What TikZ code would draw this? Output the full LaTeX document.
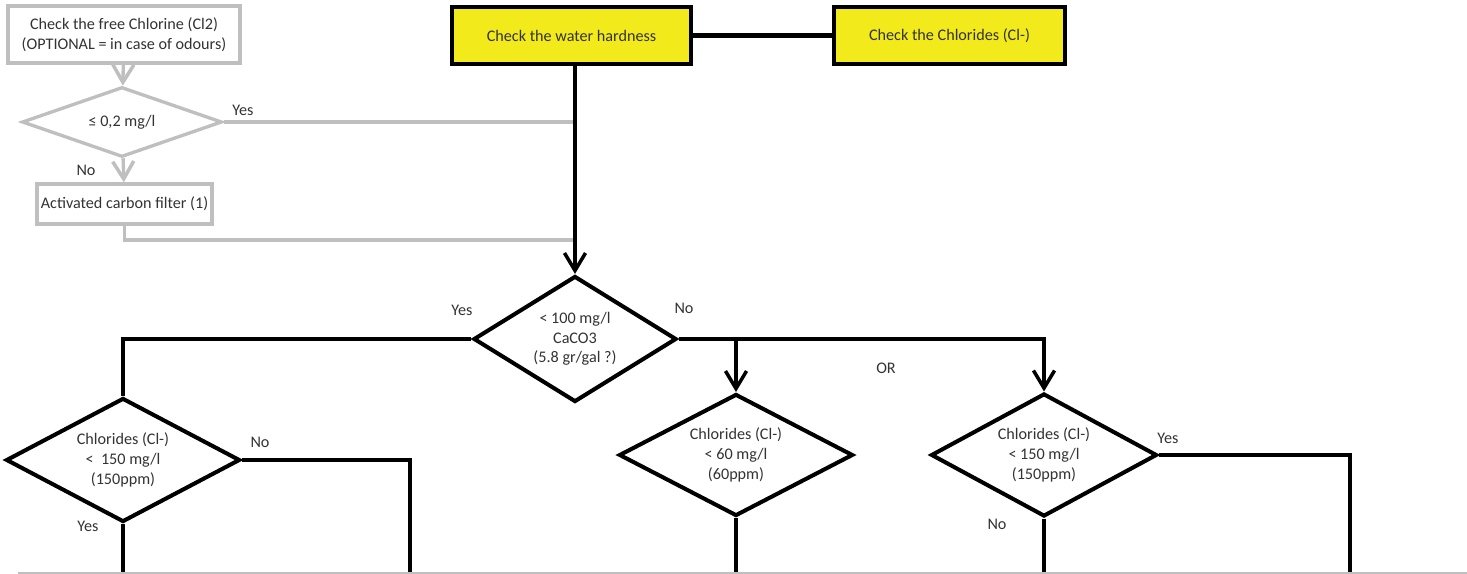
\documentclass[tikz,border=0pt]{standalone}
\usepackage{fontspec}
\setmainfont{Carlito}
\usetikzlibrary{shapes.geometric,arrows.meta}

\definecolor{boxyellow}{HTML}{F2EA1A}
\definecolor{optgray}{HTML}{BFBFBF}
\definecolor{txtgray}{HTML}{333333}

\tikzset{
  every node/.style={font=\fontsize{9.2}{11.2}\selectfont, text=txtgray},
  flow/.style={line width=2.3pt, black},
  optflow/.style={line width=1.9pt, optgray},
  tip/.style={-{Straight Barb[length=10pt,width=12pt,line width=2pt]}},
  stepbox/.style={draw=black, line width=2.3pt, fill=boxyellow, align=center, inner sep=0pt},
  optbox/.style={draw=optgray, line width=1.9pt, fill=white, align=center, inner sep=0pt},
  decide/.style={diamond, aspect=2, draw=black, line width=2.3pt, fill=white, align=center, inner sep=0pt},
  optdecide/.style={diamond, aspect=2, draw=optgray, line width=1.9pt, fill=white, align=center, inner sep=0pt}
}

\begin{document}
\begin{tikzpicture}[x=0.02cm, y=-0.02cm]
  \useasboundingbox (0,0) rectangle (1467,574);

  % optional chlorine check (grey)
  \node[optbox, minimum width=232*0.02cm, minimum height=57*0.02cm] (chlorine) at (124,34.5)
    {Check the free Chlorine (Cl2)\\(OPTIONAL = in case of odours)};
  \node[optdecide, minimum width=200*0.02cm, minimum height=70*0.02cm] (free) at (122,122) {≤ 0,2 mg/l};
  \node[optbox, minimum width=175*0.02cm, minimum height=40*0.02cm] (carbon) at (124.5,204)
    {Activated carbon filter (1)};

  % main checks
  \node[stepbox, minimum width=239*0.02cm, minimum height=57*0.02cm] (hardness) at (571.5,35.5)
    {Check the water hardness};
  \node[stepbox, minimum width=231*0.02cm, minimum height=57*0.02cm] (chlorides) at (949.5,35.5)
    {Check the Chlorides (Cl-)};

  \node[decide, minimum width=203*0.02cm, minimum height=126*0.02cm] (caco) at (575,339)
    {< 100 mg/l\\CaCO3\\(5.8 gr/gal ?)};
  \node[decide, minimum width=234*0.02cm, minimum height=124*0.02cm] (clsoft) at (123,460)
    {Chlorides (Cl-)\\<~ 150 mg/l\\(150ppm)};
  \node[decide, minimum width=234*0.02cm, minimum height=122*0.02cm] (cllow) at (736,455)
    {Chlorides (Cl-)\\< 60 mg/l\\(60ppm)};
  \node[decide, minimum width=226*0.02cm, minimum height=123*0.02cm] (clhigh) at (1044,455)
    {Chlorides (Cl-)\\< 150 mg/l\\(150ppm)};

  \coordinate (carbonjoin) at (575,240);
  \coordinate (base) at (0,574);
  \coordinate (exitsoft) at (410,574);
  \coordinate (exithigh) at (1350,574);

  % grey connectors
  \draw[optflow, tip] (chlorine) -- (free);
  \draw[optflow, tip] (free) -- (carbon);
  \draw[optflow] (free.east) -- (free.east -| caco.north);
  \draw[optflow] (carbon.south) |- (carbonjoin);
  \node at (243,110) {Yes};
  \node at (86,170) {No};

  % black connectors
  \draw[flow] (hardness) -- (chlorides);
  \draw[flow, tip] (caco.north |- hardness.south) -- (caco.north);
  \draw[flow] (caco.west) -| (clsoft.north);
  \draw[flow, tip] (caco.east) -| (clhigh.north);
  \draw[flow, tip] (cllow.north |- caco.east) -- (cllow.north);
  \draw[flow] (clsoft.south) -- (clsoft.south |- base);
  \draw[flow] (clsoft.east) -| (exitsoft);
  \draw[flow] (cllow.south) -- (cllow.south |- base);
  \draw[flow] (clhigh.south) -- (clhigh.south |- base);
  \draw[flow] (clhigh.east) -| (exithigh);

  \node at (462,310) {Yes};
  \node at (684,308) {No};
  \node at (886,368) {OR};
  \node at (260,442) {No};
  \node at (88,526) {Yes};
  \node at (1168,438) {Yes};
  \node at (997,524) {No};

  % page edge
  \draw[optgray, line width=0.8pt] (18,573) -- (1467,573);
\end{tikzpicture}
\end{document}
